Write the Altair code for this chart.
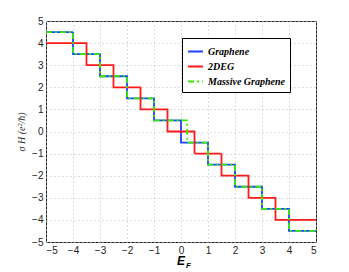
import altair as alt
import pandas as pd

# Data
graphene_x = [-5, -4, -3, -2, -1, 0, 1, 2, 3, 4, 5]
graphene_y = [4.5, 3.5, 2.5, 1.5, 0.5, -0.5, -1.5, -2.5, -3.5, -4.5, -4.5]

deg_x = [-5, -3.5, -2.5, -1.5, -0.5, 0.5, 1.5, 2.5, 3.5, 5]
deg_y = [4, 3, 2, 1, 0, -1, -2, -3, -4, -4]

massive_x = [-5, -4, -3, -2, -1, 0.23, 1, 2, 3, 4, 5]
massive_y = [4.5, 3.5, 2.5, 1.5, 0.5, -0.5, -1.5, -2.5, -3.5, -4.5, -4.5]

series = ["Graphene", "2DEG", "Massive Graphene"]
colors = ["#1f3fff", "#ff1a1a", "#33ee00"]
ticks = [-5, -4, -3, -2, -1, 0, 1, 2, 3, 4, 5]

rows = []
for name, xs, ys in [(series[0], graphene_x, graphene_y),
                     (series[1], deg_x, deg_y),
                     (series[2], massive_x, massive_y)]:
    for i, (a, b) in enumerate(zip(xs, ys)):
        rows.append({"series": name, "x": a, "y": b, "i": i})
df = pd.DataFrame(rows)

W, H = 270, 221

xscale = alt.Scale(domain=[-5, 5], nice=False, zero=False)
yscale = alt.Scale(domain=[-5, 5], nice=False, zero=False)

lines = alt.Chart(df).mark_line(interpolate="step-after", strokeWidth=1.8).encode(
    x=alt.X("x:Q", scale=xscale,
            axis=alt.Axis(values=ticks, title="", tickSize=0, labelPadding=3)),
    y=alt.Y("y:Q", scale=yscale,
            axis=alt.Axis(values=ticks, title="σ H (e²/ħ)", tickSize=0, labelPadding=3,
                          titleFontSize=10, titleFontWeight="normal", titleFont="Liberation Serif",
                          titleFontStyle="italic", titlePadding=5, titleColor="#333")),
    color=alt.Color("series:N", scale=alt.Scale(domain=series, range=colors),
                    legend=alt.Legend(title=None, orient="none", legendX=136, legendY=17,
                                      symbolType="stroke", symbolSize=220, symbolStrokeWidth=2,
                                      labelFont="Liberation Serif", labelFontStyle="italic",
                                      labelFontWeight="bold", labelFontSize=10, labelColor="#000",
                                      fillColor="white", strokeColor="#000", padding=5,
                                      rowPadding=1, labelOffset=4, offset=0)),
    strokeDash=alt.StrokeDash("series:N",
                              scale=alt.Scale(domain=series, range=[[1, 0], [1, 0], [6, 3, 2, 3]]),
                              legend=None),
    order="i:Q",
)

etitle = alt.Chart(pd.DataFrame({"t": ["E"]})).mark_text(
    font="Liberation Sans", fontStyle="italic", fontWeight="bold", fontSize=12, align="center",
    baseline="alphabetic", color="#000"
).encode(text="t:N", x=alt.value(135), y=alt.value(H + 23))

sub = alt.Chart(pd.DataFrame({"t": ["F"]})).mark_text(
    font="Liberation Sans", fontStyle="italic", fontWeight="bold", fontSize=8, align="left",
    baseline="alphabetic", color="#000"
).encode(text="t:N", x=alt.value(140), y=alt.value(H + 26))

chart = alt.layer(lines, etitle, sub).properties(
    width=W, height=H, padding={"left": 8, "top": 8, "right": 5, "bottom": 0}
).configure_axis(
    grid=True, gridColor="#bdbdbd", gridDash=[1, 3], gridWidth=1,
    domain=False, labelFont="Liberation Sans", labelFontSize=10, labelColor="#222",
).configure_view(stroke="#222", strokeWidth=1)

chart.save("out.html", embed_options={"renderer": "svg", "actions": False})
